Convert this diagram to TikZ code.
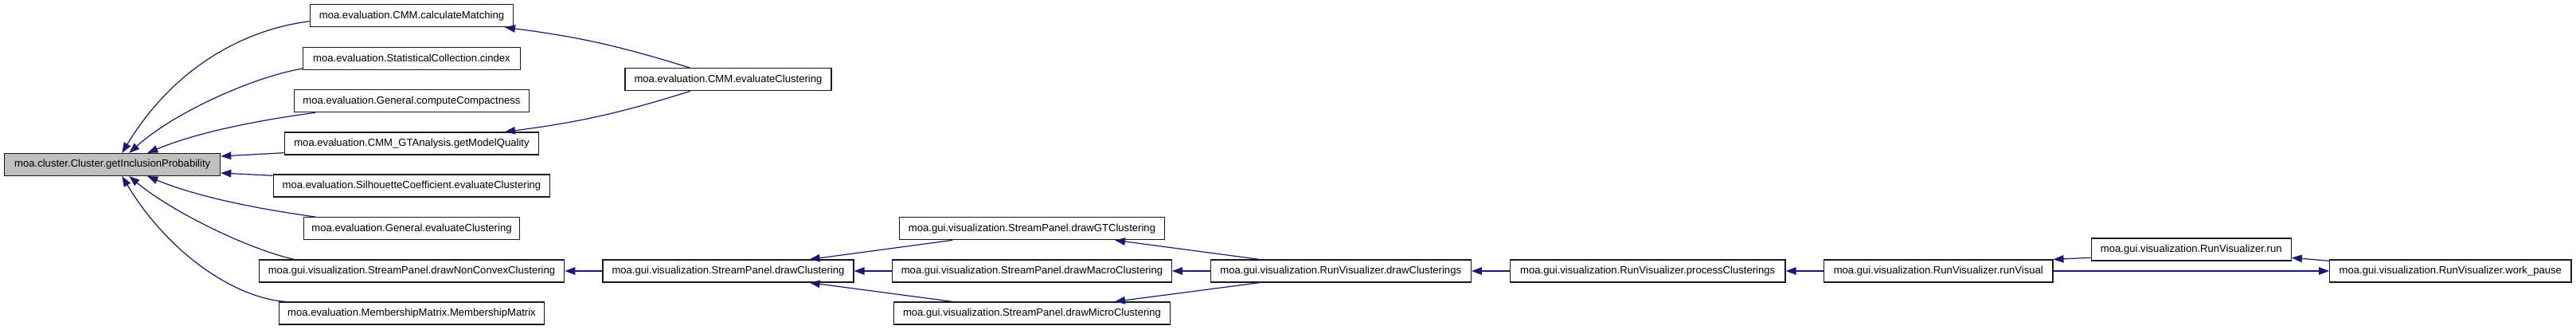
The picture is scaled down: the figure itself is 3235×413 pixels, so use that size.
\documentclass[tikz,border=0pt]{standalone}
\usepackage{fontspec}
\setmainfont{Liberation Sans}
\usetikzlibrary{arrows.meta}
\definecolor{edgec}{HTML}{191970}
\definecolor{boxc}{HTML}{1A1A1A}
\definecolor{rootgray}{HTML}{BFBFBF}
\tikzset{
  box/.style={draw=boxc, line width=1.2pt, rectangle, minimum height=28pt, inner sep=0pt, fill=white, font=\fontsize{13.1}{15}\selectfont},
  rootbox/.style={box, fill=rootgray},
  edge/.style={draw=edgec, line width=1.2pt, -{Triangle[length=13pt,width=9.5pt]}, color=edgec},
}
\begin{document}
\begin{tikzpicture}[x=1pt, y=-1pt]
\useasboundingbox (0,0) rectangle (3235,413);
% nodes
\node[rootbox, minimum width=271pt] (root) at (141.2,206.5) {moa.cluster.Cluster.getInclusionProbability};
\node[box, minimum width=255.4pt] (cm) at (517,19.7) {moa.evaluation.CMM.calculateMatching};
\node[box, minimum width=272.3pt] (ci) at (517,73.3) {moa.evaluation.StatisticalCollection.cindex};
\node[box, minimum width=295.7pt] (cc) at (517,126.7) {moa.evaluation.General.computeCompactness};
\node[box, minimum width=319.4pt] (gmq) at (517,180) {moa.evaluation.CMM\_GTAnalysis.getModelQuality};
\node[box, minimum width=347.7pt] (sil) at (517,233) {moa.evaluation.SilhouetteCoefficient.evaluateClustering};
\node[box, minimum width=271.4pt] (gec) at (517,286.7) {moa.evaluation.General.evaluateClustering};
\node[box, minimum width=383.4pt] (dnc) at (517,340) {moa.gui.visualization.StreamPanel.drawNonConvexClustering};
\node[box, minimum width=332.6pt] (mm) at (517,393) {moa.evaluation.MembershipMatrix.MembershipMatrix};
\node[box, minimum width=259pt] (cec) at (914.5,99.8) {moa.evaluation.CMM.evaluateClustering};
\node[box, minimum width=315pt] (dc) at (914.5,340) {moa.gui.visualization.StreamPanel.drawClustering};
\node[box, minimum width=332.3pt] (dgt) at (1296,286.7) {moa.gui.visualization.StreamPanel.drawGTClustering};
\node[box, minimum width=350.7pt] (dmac) at (1296,340) {moa.gui.visualization.StreamPanel.drawMacroClustering};
\node[box, minimum width=347pt] (dmic) at (1296,393) {moa.gui.visualization.StreamPanel.drawMicroClustering};
\node[box, minimum width=327pt] (rdc) at (1683.8,340) {moa.gui.visualization.RunVisualizer.drawClusterings};
\node[box, minimum width=345.7pt] (pc) at (2069.2,340) {moa.gui.visualization.RunVisualizer.processClusterings};
\node[box, minimum width=287.3pt] (rv) at (2434.3,340) {moa.gui.visualization.RunVisualizer.runVisual};
\node[box, minimum width=251pt] (run) at (2751.8,313) {moa.gui.visualization.RunVisualizer.run};
\node[box, minimum width=303.3pt] (wp) at (3077.3,340) {moa.gui.visualization.RunVisualizer.work\_pause};
% edges into root
\draw[edge] ([yshift=-7pt]cm.west) .. controls (300,38) and (215,90) .. ([xshift=12pt]root.north);
\draw[edge] ([yshift=-12.7pt]ci.west) .. controls (320,96) and (220,140) .. ([xshift=21pt]root.north);
\draw[edge] ([xshift=27.7pt]cc.south west) .. controls (330,150) and (250,165) .. ([xshift=44pt]root.north);
\draw[edge] ([yshift=-11.7pt]gmq.west) -- ([yshift=10.5pt]root.east);
\draw[edge] ([yshift=12.7pt]sil.west) -- ([yshift=-10.5pt]root.east);
\draw[edge] ([xshift=15.7pt]gec.north west) .. controls (330,263) and (250,248) .. ([xshift=44pt]root.south);
\draw[edge] ([xshift=44.7pt]dnc.north west) .. controls (310,312) and (215,265) .. ([xshift=21pt]root.south);
\draw[edge] ([xshift=9.3pt]mm.north west) .. controls (300,375) and (215,323) .. ([xshift=12pt]root.south);
% CMM.evaluateClustering
\draw[edge] ([xshift=-47.8pt]cec.north) to[bend right=5] ([xshift=117pt]cm.south);
\draw[edge] ([xshift=-47.8pt]cec.south) to[bend left=5] ([xshift=117pt]gmq.north);
% drawClustering chain
\draw[edge] (dc.west) -- (dnc.east);
\draw[edge] ([xshift=67pt]dgt.south west) -- ([xshift=102.2pt]dc.north);
\draw[edge] (dmac.west) -- (dc.east);
\draw[edge] ([xshift=74.4pt]dmic.north west) -- ([xshift=102.2pt]dc.south);
\draw[edge] ([xshift=-102.1pt]rdc.north) -- ([xshift=104pt]dgt.south);
\draw[edge] (rdc.west) -- (dmac.east);
\draw[edge] ([xshift=-102.1pt]rdc.south) -- ([xshift=104pt]dmic.north);
\draw[edge] (pc.west) -- (rdc.east);
\draw[edge] (rv.west) -- (pc.east);
\draw[edge] ([yshift=-10.3pt]run.west) -- (rv.north east);
\draw[edge] (rv.east) -- (wp.west);
\draw[edge] ([yshift=12.7pt]wp.west) -- ([yshift=-10.3pt]run.east);
\end{tikzpicture}
\end{document}
